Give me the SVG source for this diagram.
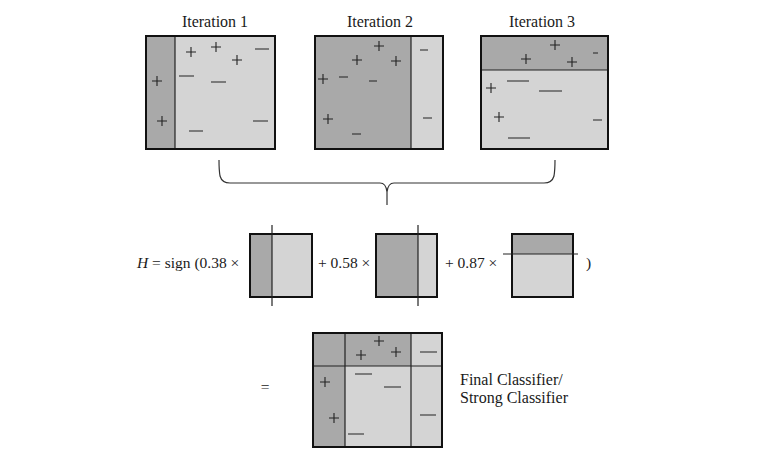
<svg xmlns="http://www.w3.org/2000/svg" width="760" height="458" viewBox="0 0 760 458">
<style>
.t{font-family:"Liberation Serif","Times New Roman",serif;font-size:15.5px;fill:#1a1a1a}
.t2{font-size:16px}
.dk{fill:#a9a9a9}
.lt{fill:#d4d4d4}
.bx{fill:none;stroke:#111;stroke-width:2}
.dv{stroke:#222;stroke-width:1.2;fill:none}
.pm{stroke:#222;stroke-width:1.1;fill:none}
.br{stroke:#333;stroke-width:1.2;fill:none}
</style>
<defs>
<path id="p" d="M-5 0H5M0 -5V5" class="pm"/>
</defs>
<rect width="760" height="458" fill="#fff"/>

<g id="iter1">
<text class="t t2" x="215" y="27" text-anchor="middle">Iteration 1</text>
<rect class="lt" x="146" y="36" width="129" height="113"/>
<rect class="dk" x="146" y="36" width="29" height="113"/>
<line class="dv" x1="175" y1="36" x2="175" y2="149"/>
<rect class="bx" x="146" y="36" width="129" height="113"/>
<use href="#p" x="191" y="52"/><use href="#p" x="216" y="47"/><use href="#p" x="237" y="60"/>
<use href="#p" x="157" y="81"/><use href="#p" x="162" y="121"/>
<path class="pm" d="M255 49H269M179 76H194M211 82H226M189 131H203M253 121H268"/>
</g>

<g id="iter2">
<text class="t t2" x="380" y="27" text-anchor="middle">Iteration 2</text>
<rect class="lt" x="315" y="36" width="128" height="113"/>
<rect class="dk" x="315" y="36" width="96" height="113"/>
<line class="dv" x1="411" y1="36" x2="411" y2="149"/>
<rect class="bx" x="315" y="36" width="128" height="113"/>
<use href="#p" x="379" y="46"/><use href="#p" x="357" y="60"/><use href="#p" x="396" y="61"/>
<use href="#p" x="323" y="79"/><use href="#p" x="328" y="119"/>
<path class="pm" d="M339 77H348M369 81H377M420 50H428M423 118H432M352 134H361"/>
</g>

<g id="iter3">
<text class="t t2" x="542" y="27" text-anchor="middle">Iteration 3</text>
<rect class="lt" x="481" y="36" width="127" height="113"/>
<rect class="dk" x="481" y="36" width="127" height="34"/>
<line class="dv" x1="481" y1="70" x2="608" y2="70"/>
<rect class="bx" x="481" y="36" width="127" height="113"/>
<use href="#p" x="555" y="45"/><use href="#p" x="526" y="59"/><use href="#p" x="572" y="62"/>
<use href="#p" x="491" y="88"/><use href="#p" x="499" y="117"/>
<path class="pm" d="M593 53H598M507 81H529M539 91H562M508 138H530M593 120H602"/>
</g>

<g id="connectors">
<path class="br" d="M219 160Q219 170 220 176Q222 183 230 183H380Q386 183 387 192V205M387 192Q388 183 394 183H544Q552 183 554 176Q555 170 555 160"/>
</g>

<g id="equation">
<text class="t" x="137" y="268"><tspan font-style="italic">H</tspan> = sign (0.38 ×</text>
<g id="weak1">
<rect class="lt" x="250" y="234" width="62" height="63"/>
<rect class="dk" x="250" y="234" width="22" height="63"/>
<rect class="bx" x="250" y="234" width="62" height="63"/>
<line class="dv" x1="272" y1="225" x2="272" y2="306"/>
</g>
<text class="t" x="318" y="268">+ 0.58 ×</text>
<g id="weak2">
<rect class="lt" x="376" y="234" width="61" height="63"/>
<rect class="dk" x="376" y="234" width="42" height="63"/>
<rect class="bx" x="376" y="234" width="61" height="63"/>
<line class="dv" x1="418" y1="225" x2="418" y2="306"/>
</g>
<text class="t" x="445" y="268">+ 0.87 ×</text>
<g id="weak3">
<rect class="lt" x="512" y="234" width="61" height="63"/>
<rect class="dk" x="512" y="234" width="61" height="20"/>
<rect class="bx" x="512" y="234" width="61" height="63"/>
<line class="dv" x1="503" y1="254" x2="578" y2="254"/>
</g>
<text class="t" x="586" y="268">)</text>
</g>

<g id="final">
<text class="t" x="265" y="392" text-anchor="middle">=</text>
<rect class="lt" x="313" y="333" width="129" height="114"/>
<rect class="dk" x="313" y="333" width="32" height="114"/>
<rect class="dk" x="345" y="333" width="66" height="33"/>
<path class="dv" d="M345 333V447M411 333V447M313 366H442"/>
<rect class="bx" x="313" y="333" width="129" height="114"/>
<use href="#p" x="379" y="341"/><use href="#p" x="361" y="355"/><use href="#p" x="396" y="352"/>
<use href="#p" x="325" y="382"/><use href="#p" x="334" y="418"/>
<path class="pm" d="M420 352H437M355 374H372M384 387H401M420 415H436M348 434H364"/>
<text class="t t2" x="460" y="385">Final Classifier/</text>
<text class="t t2" x="460" y="403">Strong Classifier</text>
</g>
</svg>
